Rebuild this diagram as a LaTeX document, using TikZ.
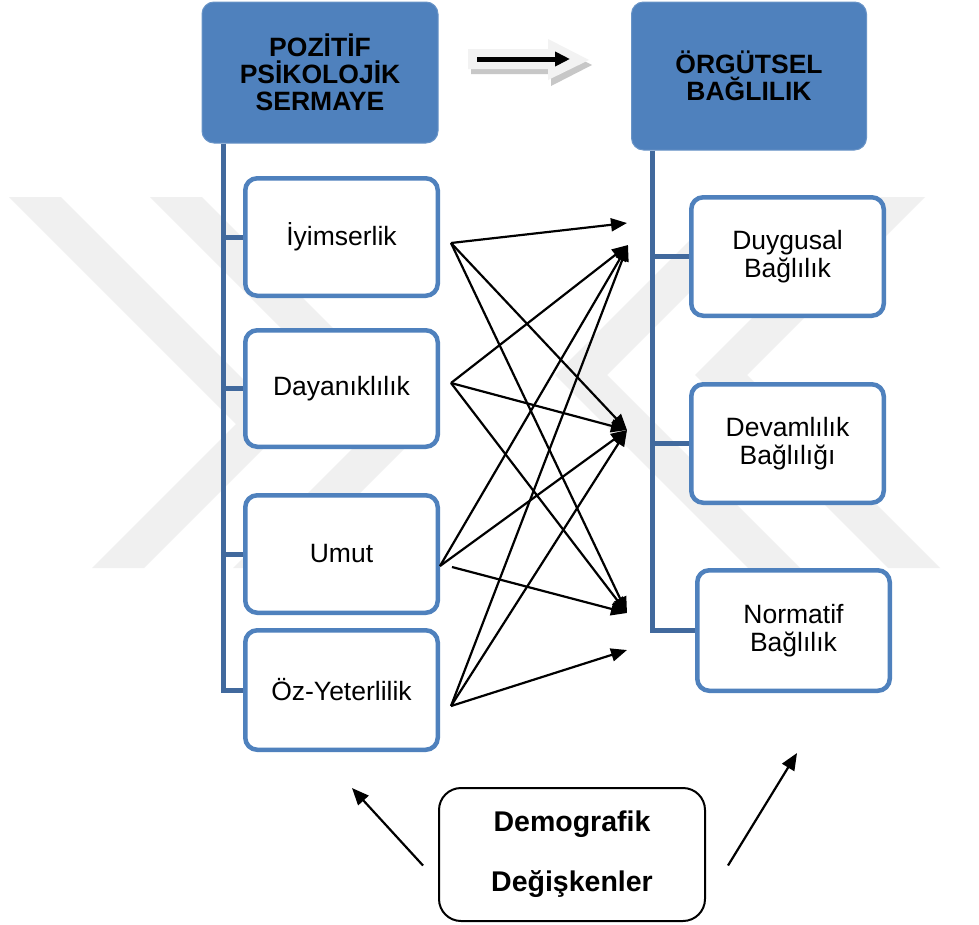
\documentclass[tikz,border=0pt]{standalone}
\usepackage{fontspec}
\setmainfont{Liberation Sans}
\usetikzlibrary{arrows.meta}
\definecolor{accent}{HTML}{4F81BD}
\definecolor{spine}{HTML}{41699D}
\definecolor{markgray}{HTML}{F0F0F0}
\begin{document}
\begin{tikzpicture}[x=1pt,y=-1pt,
  hdr/.style={fill=accent, draw=accent!85!white, line width=1pt, rounded corners=12pt,
    font=\fontsize{26.5}{27}\selectfont\bfseries, align=center, inner sep=0pt},
  leaf/.style={draw=accent, line width=4.5pt, rounded corners=12pt, fill=white,
    font=\fontsize{26.5}{28}\selectfont, align=center, inner sep=0pt, minimum width=192.5pt},
  tree/.style={draw=spine, line width=5pt},
  link/.style={draw=black, line width=2.2pt, -{Triangle[length=16pt,width=13pt]}},
  demo/.style={draw=black, line width=2pt, rounded corners=22pt, fill=white,
    font=\fontsize{28.5}{60}\selectfont\bfseries, align=center, inner sep=0pt,
    minimum width=266pt, minimum height=133pt}]

\useasboundingbox (0,0) rectangle (979,924);
\fill[white] (0,0) rectangle (979,924);

% light emblem in the background: two chevron pairs
\fill[markgray] (9,197) -- (61,197) -- (288,424) -- (144,568) -- (92,568) -- (236,424) -- cycle;
\fill[markgray] (150,197) -- (202,197) -- (429,424) -- (285,568) -- (233,568) -- (377,424) -- cycle;
\fill[markgray] (925,197) -- (873,197) -- (695,375) -- (888,568) -- (940,568) -- (747,375) -- cycle;
\fill[markgray] (785,197) -- (733,197) -- (555,375) -- (748,568) -- (800,568) -- (607,375) -- cycle;

% header boxes
\node[hdr, minimum width=236pt, minimum height=141pt] (hdrL) at (320,72.5)
  {POZİTİF\\PSİKOLOJİK\\SERMAYE};
\node[hdr, minimum width=235pt, minimum height=148pt] (hdrR) at (749,76)
  {ÖRGÜTSEL\\BAĞLILIK};

% block arrow between the headers
\fill[black!22] (471,54) -- (551,54) -- (551,44) -- (592,65) -- (551,86) -- (551,74) -- (471,74) -- cycle;
\fill[black!5] (468,49) -- (548,49) -- (548,39) -- (589,60) -- (548,80) -- (548,69) -- (468,69) -- cycle;
\coordinate (hs) at (477,59);
\coordinate (he) at (570,59);
\draw[line width=5pt, -{Triangle[length=15pt,width=14pt]}] (hs) -- (he);

% left column
\node[leaf, minimum height=117.5pt] (b1) at (341.5,237)   {İyimserlik};
\node[leaf, minimum height=116.5pt] (b2) at (341.5,388.5) {Dayanıklılık};
\node[leaf, minimum height=117.5pt] (b3) at (341.5,554)   {Umut};
\node[leaf, minimum height=119.5pt] (b4) at (341.5,690)   {Öz-Yeterlilik};

% right column
\node[leaf, minimum height=118.5pt] (r1) at (787.5,256.5) {Duygusal\\Bağlılık};
\node[leaf, minimum height=118.5pt] (r2) at (787.5,443.5) {Devamlılık\\Bağlılığı};
\node[leaf, minimum height=120.5pt] (r3) at (793.5,630.5) {Normatif\\Bağlılık};

% spines
\coordinate (lsp) at (223,0);
\coordinate (rsp) at (652,0);
\draw[tree] (hdrL.south -| lsp) |- (b4.west);
\draw[tree] (b1.west -| lsp) -- (b1.west);
\draw[tree] (b2.west -| lsp) -- (b2.west);
\draw[tree] (b3.west -| lsp) -- (b3.west);
\draw[tree] (hdrR.south -| rsp) |- (r3.west);
\draw[tree] (r1.west -| rsp) -- (r1.west);
\draw[tree] (r2.west -| rsp) -- (r2.west);

% crossing arrows
\coordinate (sI) at (451,243);
\coordinate (sD) at (451,383);
\coordinate (sU) at (440,566);
\coordinate (sUb) at (452,567);
\coordinate (sO) at (451,706);
\coordinate (t1) at (627,223);
\coordinate (t2) at (628,245);
\coordinate (t3) at (627,430);
\coordinate (t4) at (627,613);
\coordinate (t5) at (627,650);
\draw[link] (sI) -- (t1);
\draw[link] (sI) -- (t3);
\draw[link] (sI) -- (t4);
\draw[link] (sD) -- (t2);
\draw[link] (sD) -- (t3);
\draw[link] (sD) -- (t4);
\draw[link] (sU) -- (t2);
\draw[link] (sU) -- (t3);
\draw[link] (sUb) -- (t4);
\draw[link] (sO) -- (t2);
\draw[link] (sO) -- (t3);
\draw[link] (sO) -- (t5);

% demographic variables
\node[demo] (dem) at (572,854.5) {Demografik\\Değişkenler};
\coordinate (dL) at (352,788);
\coordinate (dR) at (797,753);
\draw[link, line width=2.2pt, -{Triangle[length=17pt,width=14pt]}]
  ([xshift=-15pt,yshift=-11pt]dem.west) -- (dL);
\draw[link, line width=2.2pt, -{Triangle[length=17pt,width=14pt]}]
  ([xshift=22pt,yshift=-11pt]dem.east) -- (dR);
\end{tikzpicture}
\end{document}
